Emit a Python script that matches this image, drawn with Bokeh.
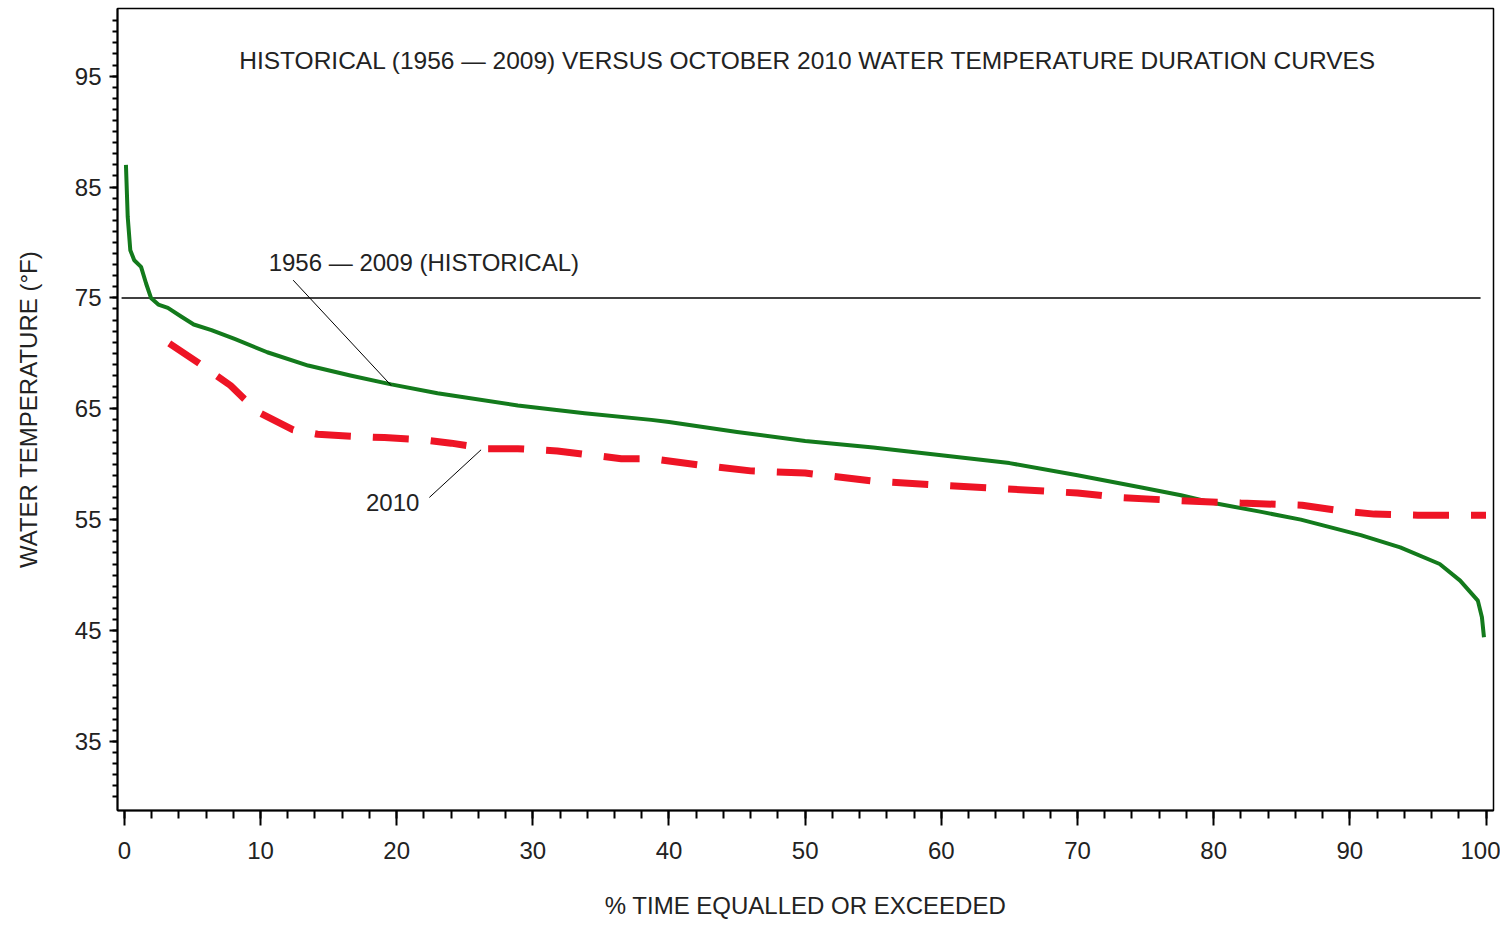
from bokeh.plotting import figure
from bokeh.models import Range1d, FixedTicker, Label
from bokeh.embed import file_html
from bokeh.resources import INLINE

# ---- data ----
hist_pct = [0.12, 0.25, 0.44, 0.73, 1.23, 1.6, 1.96, 2.5, 3.2, 4.2, 5.1, 6.4, 8.1,
            10.5, 13.5, 16.6, 19.6, 23.0, 28.9, 33.8, 38.7, 40.0, 45.0, 50.0, 55.0,
            60.0, 65.0, 70.0, 74.7, 77.6, 80.0, 83.5, 86.4, 90.8, 93.7, 96.6, 98.1,
            99.4, 99.7, 99.85]
hist_temp = [87.0, 82.3, 79.3, 78.4, 77.8, 76.3, 75.0, 74.4, 74.1, 73.3, 72.6, 72.1, 71.3,
             70.1, 68.9, 68.0, 67.2, 66.4, 65.3, 64.6, 64.0, 63.8, 62.9, 62.1, 61.5,
             60.8, 60.1, 59.0, 57.9, 57.2, 56.5, 55.7, 55.0, 53.6, 52.5, 51.0, 49.5,
             47.7, 46.2, 44.4]

oct2010_pct = [3.3, 5.5, 7.8, 8.8, 10.0, 12.4, 14.2, 17.1, 19.1, 22.0, 24.0, 26.7, 28.9,
               31.8, 33.8, 36.5, 38.7, 42.4, 46.0, 50.0, 54.8, 60.0, 64.4, 70.0, 73.2,
               77.6, 82.0, 86.5, 89.3, 91.8, 95.0, 100.0]
oct2010_temp = [70.9, 69.1, 67.1, 65.9, 64.6, 63.1, 62.7, 62.5, 62.4, 62.2, 61.9, 61.4, 61.4,
                61.2, 60.9, 60.5, 60.5, 59.9, 59.4, 59.2, 58.5, 58.1, 57.8, 57.4, 57.0,
                56.7, 56.5, 56.3, 55.8, 55.5, 55.4, 55.4]

ref_line_pct = [-0.2, 99.6]
ref_line_temp = [75, 75]

x_major = list(range(0, 101, 10))
x_minor = list(range(0, 101, 2))
y_major = list(range(35, 96, 10))
y_minor = list(range(30, 101, 1))

title_text = "HISTORICAL (1956 \u2014 2009) VERSUS OCTOBER 2010 WATER TEMPERATURE DURATION CURVES"
hist_label = "1956 \u2014 2009 (HISTORICAL)"
oct_label = "2010"
x_title = "% TIME EQUALLED OR EXCEEDED"
y_title = "WATER TEMPERATURE (\u00b0F)"

# annotation anchor positions (data units)
title_pos = (50.2, 96.4)
hist_label_pos = (10.6, 78.2)
oct_label_pos = (17.75, 56.55)
leader_x0 = [12.4, 22.4]
leader_y0 = [76.6, 57.0]
leader_x1 = [19.6, 26.2]
leader_y1 = [67.1, 61.3]

FONT = "Liberation Sans"
TXT = "#222222"

p = figure(width=1500, height=926, output_backend="svg", toolbar_location=None,
           x_range=Range1d(-0.5, 100.55), y_range=Range1d(28.77, 101.1),
           min_border_left=117, min_border_right=7, min_border_top=8, min_border_bottom=116)
p.background_fill_color = "white"
p.border_fill_color = "white"
p.outline_line_color = "black"
p.outline_line_width = 1.5
p.xgrid.visible = False
p.ygrid.visible = False

# axes
p.xaxis.ticker = FixedTicker(ticks=x_major, minor_ticks=x_minor)
p.yaxis.ticker = FixedTicker(ticks=y_major, minor_ticks=y_minor)
for ax in (p.xaxis[0], p.yaxis[0]):
    ax.axis_line_color = "black"
    ax.axis_line_width = 2
    ax.major_tick_line_color = "black"
    ax.minor_tick_line_color = "black"
    ax.major_tick_line_width = 2
    ax.minor_tick_line_width = 2
    ax.major_tick_in = 0
    ax.minor_tick_in = 0
    ax.major_label_text_font = FONT
    ax.major_label_text_font_size = "24px"
    ax.major_label_text_color = TXT
    ax.axis_label_text_font = FONT
    ax.axis_label_text_font_size = "24px"
    ax.axis_label_text_font_style = "normal"
    ax.axis_label_text_color = TXT

p.xaxis.major_tick_out = 15
p.xaxis.minor_tick_out = 8
p.xaxis.major_label_standoff = 16
p.xaxis.axis_label = x_title
p.xaxis.axis_label_standoff = 30

p.yaxis.major_tick_out = 8
p.yaxis.minor_tick_out = 5
p.yaxis.major_label_standoff = 8
p.yaxis.axis_label = y_title
p.yaxis.axis_label_standoff = 30

# reference line at 75 F
p.line(ref_line_pct, ref_line_temp, line_color="black", line_width=1.5)

# curves
p.line(hist_pct, hist_temp, line_color="#137a1c", line_width=4, line_join="round")
p.line(oct2010_pct, oct2010_temp, line_color="#ee1425", line_width=7,
       line_dash="36 22", line_cap="butt")

# leader lines
p.segment(x0=leader_x0, y0=leader_y0, x1=leader_x1, y1=leader_y1,
          line_color="black", line_width=1)

# texts
p.add_layout(Label(x=title_pos[0], y=title_pos[1], text=title_text, text_font=FONT,
                   text_font_size="24.5px", text_align="center", text_baseline="middle",
                   text_color=TXT))
p.add_layout(Label(x=hist_label_pos[0], y=hist_label_pos[1], text=hist_label, text_font=FONT,
                   text_font_size="24px", text_align="left", text_baseline="middle",
                   text_color=TXT))
p.add_layout(Label(x=oct_label_pos[0], y=oct_label_pos[1], text=oct_label, text_font=FONT,
                   text_font_size="24px", text_align="left", text_baseline="middle",
                   text_color=TXT))

open("out.html", "w").write(file_html(p, INLINE))
